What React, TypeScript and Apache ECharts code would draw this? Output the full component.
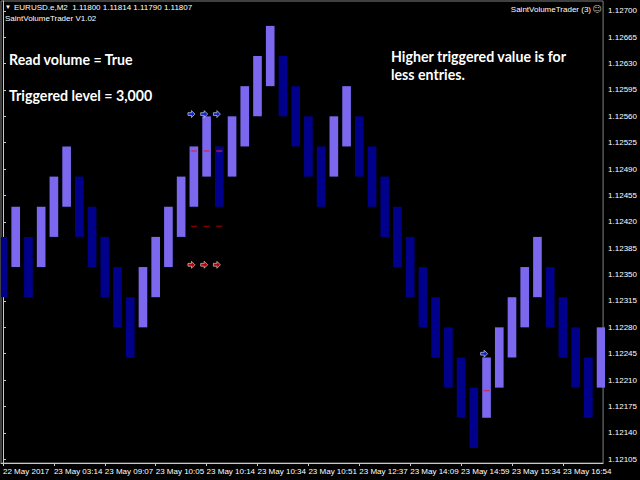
import React, { useEffect, useRef } from 'react';
import * as echarts from 'echarts';

// renko bricks, one per bar index (open / close)
const opens = [
  1.1240, 1.1236, 1.1240, 1.1236, 1.1240, 1.1244, 1.1248, 1.1244, 1.1240, 1.1236,
  1.1232, 1.1228, 1.1232, 1.1236, 1.1240, 1.1244, 1.1248, 1.1252, 1.1248, 1.1252,
  1.1256, 1.1260, 1.1264, 1.1260, 1.1256, 1.1252, 1.1248, 1.1252, 1.1256, 1.1252,
  1.1248, 1.1244, 1.1240, 1.1236, 1.1232, 1.1228, 1.1224, 1.1220, 1.1216, 1.1220,
  1.1224, 1.1228, 1.1232, 1.1236, 1.1232, 1.1228, 1.1224, 1.1220,
];
const closes = [
  1.1232, 1.1244, 1.1232, 1.1244, 1.1248, 1.1252, 1.1240, 1.1236, 1.1232, 1.1228,
  1.1224, 1.1236, 1.1240, 1.1244, 1.1248, 1.1252, 1.1256, 1.1244, 1.1256, 1.1260,
  1.1264, 1.1268, 1.1256, 1.1252, 1.1248, 1.1244, 1.1256, 1.1260, 1.1248, 1.1244,
  1.1240, 1.1236, 1.1232, 1.1228, 1.1224, 1.1220, 1.1216, 1.1212, 1.1224, 1.1228,
  1.1232, 1.1236, 1.1240, 1.1228, 1.1224, 1.1220, 1.1216, 1.1228,
];

// time labels, one every 4 bars
const xLabelBars = [0, 4, 8, 12, 16, 20, 24, 28, 32, 36, 40, 44];
const xLabels = [
  '22 May 2017', '23 May 03:14', '23 May 09:07', '23 May 10:05', '23 May 10:14', '23 May 10:34',
  '23 May 10:51', '23 May 12:37', '23 May 14:09', '23 May 14:59', '23 May 15:34', '23 May 16:54',
];
const yTicks = [
  1.12105, 1.12140, 1.12175, 1.12210, 1.12245, 1.12280, 1.12315, 1.12350, 1.12385,
  1.12420, 1.12455, 1.12490, 1.12525, 1.12560, 1.12595, 1.12630, 1.12665, 1.12700,
];

// signals drawn by the indicator
const blueArrowBars = [15, 16, 17, 38];
const blueArrowPrices = [1.12563, 1.12563, 1.12563, 1.12245];
const redArrowBars = [15, 16, 17];
const redArrowPrices = [1.12363, 1.12363, 1.12363];
const upperDashBars = [15, 16, 17, 38];
const upperDashPrices = [1.12514, 1.12514, 1.12514, 1.12196];
const lowerDashBars = [15, 16, 17];
const lowerDashPrices = [1.12414, 1.12414, 1.12414];

const UP = '#7B68EE';
const DOWN = '#00008B';
const ARROW = 'path://M0,3L5,3L5,0L10,5L5,10L5,7L0,7Z';

const App: React.FC = () => {
  const chartRef = useRef<HTMLDivElement | null>(null);

  useEffect(() => {
    if (!chartRef.current) return;
    const chart = echarts.init(chartRef.current, null, { renderer: 'svg' });

    const bars = opens.map((o, i) => [i, o, closes[i]]);
    const pairs = (xs: number[], ys: number[]) => xs.map((x, i) => [x, ys[i]]);
    const small = { fontFamily: 'Liberation Sans', fontSize: 8, fill: '#ffffff' };
    const big = { fontFamily: 'Lato', fontSize: 14.2, fontWeight: 'bold', fill: '#ffffff' };

    chart.setOption({
      animation: false,
      backgroundColor: '#000000',
      grid: { left: 1, top: 1, right: 34, bottom: 17, show: true, borderColor: '#808080', borderWidth: 1 },
      xAxis: {
        type: 'value',
        min: -0.156,
        max: 47.158,
        splitLine: { show: false },
        axisLine: { show: true, lineStyle: { color: '#c8c8c8' } },
        axisTick: { show: true, length: 3, lineStyle: { color: '#c8c8c8' }, customValues: xLabelBars },
        axisLabel: {
          customValues: xLabelBars,
          formatter: (v: number) => xLabels[xLabelBars.indexOf(Math.round(v))] || '',
          align: 'left',
          margin: 4,
          color: '#ffffff',
          fontFamily: 'Liberation Sans',
          fontSize: 8,
          showMinLabel: true,
          showMaxLabel: true,
        },
      },
      yAxis: {
        type: 'value',
        position: 'right',
        min: 1.121,
        max: 1.12713,
        splitLine: { show: false },
        axisLine: { show: true, lineStyle: { color: '#c8c8c8' } },
        axisTick: { show: true, length: 3, lineStyle: { color: '#c8c8c8' }, customValues: yTicks },
        axisLabel: {
          customValues: yTicks,
          formatter: (v: number) => v.toFixed(5),
          margin: 5,
          color: '#ffffff',
          fontFamily: 'Liberation Sans',
          fontSize: 8,
        },
      },
      series: [
        {
          type: 'custom',
          clip: true,
          data: bars,
          renderItem: (params: any, api: any) => {
            const x = api.value(0);
            const o = api.value(1);
            const c = api.value(2);
            const p1 = api.coord([x, o]);
            const p2 = api.coord([x, c]);
            const w = api.size([1, 0])[0] * 0.68;
            return {
              type: 'rect',
              shape: { x: p1[0] - w / 2, y: Math.min(p1[1], p2[1]), width: w, height: Math.abs(p1[1] - p2[1]) },
              style: { fill: c > o ? UP : DOWN },
            };
          },
        },
        {
          type: 'scatter',
          data: pairs(upperDashBars, upperDashPrices),
          symbol: 'rect',
          symbolSize: [6, 1.4],
          itemStyle: { color: '#dc2040' },
          z: 5,
        },
        {
          type: 'scatter',
          data: pairs(lowerDashBars, lowerDashPrices),
          symbol: 'rect',
          symbolSize: [6, 1.4],
          itemStyle: { color: '#a00000' },
          z: 5,
        },
        {
          type: 'scatter',
          data: pairs(blueArrowBars, blueArrowPrices),
          symbol: ARROW,
          symbolSize: [7, 7],
          symbolOffset: [-2.4, 0],
          itemStyle: { color: '#1030ff', borderColor: '#ffffff', borderWidth: 0.7 },
          z: 6,
        },
        {
          type: 'scatter',
          data: pairs(redArrowBars, redArrowPrices),
          symbol: ARROW,
          symbolSize: [7, 7],
          symbolOffset: [-2.4, 0],
          itemStyle: { color: '#e00000', borderColor: '#ffffff', borderWidth: 0.7 },
          z: 6,
        },
      ],
      graphic: [
        { type: 'text', x: 5, y: 7, style: { ...small, text: '▼', fontSize: 6, verticalAlign: 'middle' } },
        { type: 'text', x: 14, y: 7, style: { ...small, text: 'EURUSD.e,M2  1.11800 1.11814 1.11790 1.11807', verticalAlign: 'middle' } },
        { type: 'text', x: 5, y: 18.5, style: { ...small, text: 'SaintVolumeTrader V1.02', verticalAlign: 'middle' } },
        { type: 'text', x: 591, y: 9, style: { ...small, text: 'SaintVolumeTrader (3)', align: 'right', verticalAlign: 'middle' } },
        { type: 'text', x: 597, y: 9, style: { fontFamily: 'DejaVu Sans', fontSize: 9, fill: '#c0c0c0', text: '☺', align: 'center', verticalAlign: 'middle' } },
        { type: 'text', x: 9, y: 59, style: { ...big, text: 'Read volume = True', verticalAlign: 'middle' } },
        { type: 'text', x: 9, y: 95.5, style: { ...big, text: 'Triggered level = 3,000', verticalAlign: 'middle' } },
        { type: 'text', x: 391, y: 56, style: { ...big, text: 'Higher triggered value is for', verticalAlign: 'middle' } },
        { type: 'text', x: 391, y: 74, style: { ...big, text: 'less entries.', verticalAlign: 'middle' } },
      ],
    });

    return () => chart.dispose();
  }, []);

  return (
    <div
      ref={chartRef}
      style={{ position: 'absolute', left: 0, top: 0, width: 640, height: 480, background: '#000' }}
    />
  );
};

export default App;
